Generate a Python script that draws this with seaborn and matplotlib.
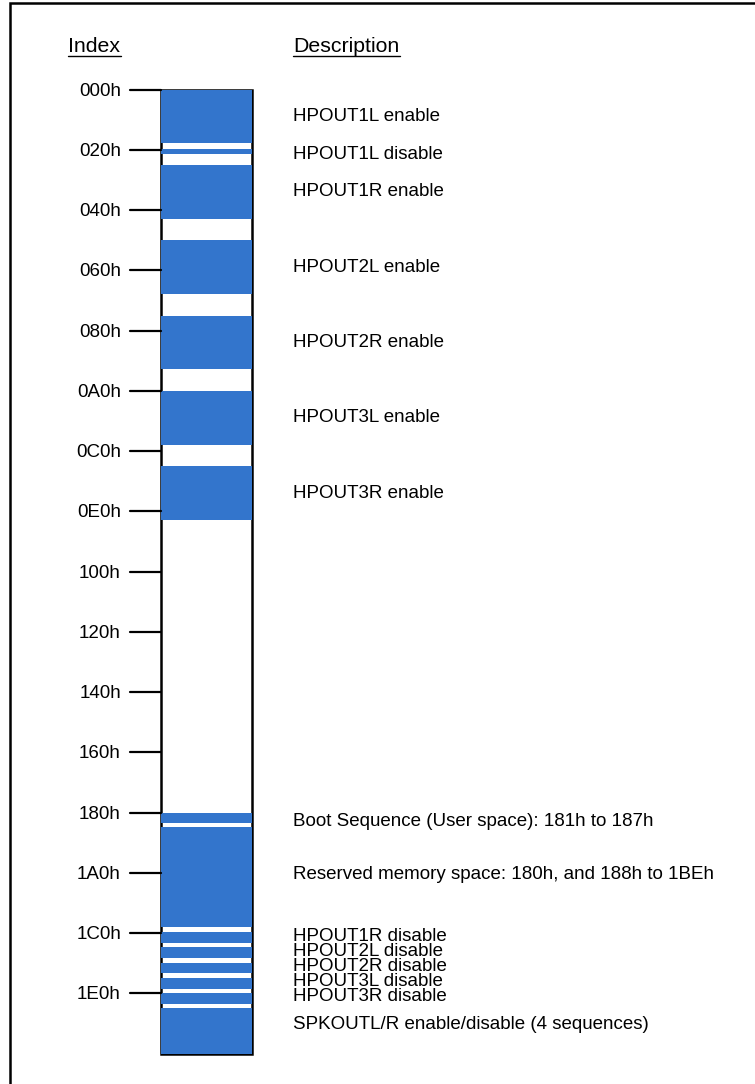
import matplotlib
matplotlib.use("Agg")
from matplotlib import pyplot as plt
from matplotlib.patches import Rectangle
import pandas as pd
import seaborn as sns

# memory blocks (index units, start / end)
block_start = [0, 31.5, 40, 80, 120, 160, 200,
               384, 391.5, 447.6, 455.6, 463.8, 471.8, 479.7, 487.8]
block_end = [28.5, 34.3, 68.5, 108.5, 148.5, 188.5, 228.6,
             389.5, 444.6, 453.2, 461.4, 469.4, 477.6, 485.5, 512]

tick_pos = [0, 32, 64, 96, 128, 160, 192, 224, 256, 288, 320, 352, 384, 416, 448, 480]
tick_labels = ["000h", "020h", "040h", "060h", "080h", "0A0h", "0C0h", "0E0h",
               "100h", "120h", "140h", "160h", "180h", "1A0h", "1C0h", "1E0h"]

desc_text = ["HPOUT1L enable", "HPOUT1L disable", "HPOUT1R enable",
             "HPOUT2L enable", "HPOUT2R enable", "HPOUT3L enable", "HPOUT3R enable",
             "Boot Sequence (User space): 181h to 187h",
             "Reserved memory space: 180h, and 188h to 1BEh",
             "HPOUT1R disable", "HPOUT2L disable", "HPOUT2R disable",
             "HPOUT3L disable", "HPOUT3R disable",
             "SPKOUTL/R enable/disable (4 sequences)"]
desc_pos = [13.4, 33.6, 53.3, 93.7, 133.5, 173.4, 213.8,
            387.9, 416.1, 449.0, 457.0, 465.0, 473.0, 480.9, 495.8]

df = pd.DataFrame({"start": block_start, "end": block_end})
df["size"] = df["end"] - df["start"]

sns.set_style("white")
plt.rcParams["font.family"] = ["Liberation Sans", "DejaVu Sans"]
plt.rcParams["text.color"] = "black"

blue = "#3375cc"
fig = plt.figure(figsize=(7.55, 10.84), dpi=100)
ax = fig.add_axes([0, 0, 1, 1])
ax.set_xlim(0, 755)
# y pixel = 89.7 + 1.8825 * index
ax.set_ylim((1084 - 89.7) / 1.8825, -89.7 / 1.8825)
ax.axis("off")
dy = 1.5 / 1.8825  # small nudge so text centres sit on the ticks

# column outline
ax.add_patch(Rectangle((161, 0), 91, 512, facecolor="white", edgecolor="black",
                       lw=1.8, zorder=1))
# blocks
ax.bar(x=[206.5] * len(df), height=df["size"], bottom=df["start"], width=91,
       color=blue, linewidth=0, zorder=2)

# index ticks
for p, lab in zip(tick_pos, tick_labels):
    ax.plot([130, 161], [p, p], color="black", lw=1.6, zorder=3)
    ax.text(121, p + dy, lab, ha="right", va="center", fontsize=13.5)

for p, t in zip(desc_pos, desc_text):
    ax.text(293, p + dy, t, ha="left", va="center", fontsize=13.5)

hy = (45 - 89.7) / 1.8825 + dy
ax.text(68, hy, "Index", ha="left", va="center", fontsize=15.3)
ax.text(293, hy, "Description", ha="left", va="center", fontsize=15.3)
for x0, x1 in [(68, 121), (293, 400)]:
    ax.plot([x0, x1], [(56 - 89.7) / 1.8825] * 2, color="black", lw=1)

# outer frame
fig.patches.append(Rectangle((10 / 755, -0.1), 1.2, 1.1 - 3 / 1084,
                             transform=fig.transFigure, fill=False,
                             edgecolor="black", lw=1.8))

fig.savefig("out.png", dpi=100)
